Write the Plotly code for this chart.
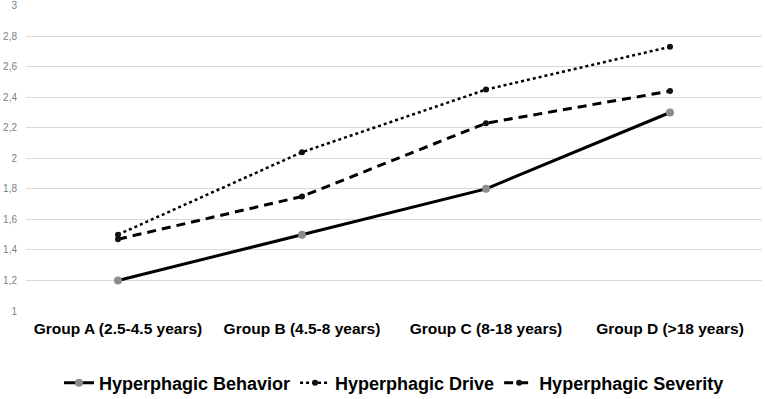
import plotly.graph_objects as go

categories = ["Group A (2.5-4.5 years)", "Group B (4.5-8 years)", "Group C (8-18 years)", "Group D (>18 years)"]
behavior = [1.2, 1.5, 1.8, 2.3]
drive = [1.5, 2.04, 2.45, 2.73]
severity = [1.47, 1.75, 2.23, 2.44]
tick_vals = [1, 1.2, 1.4, 1.6, 1.8, 2, 2.2, 2.4, 2.6, 2.8, 3]
tick_text = ["1", "1,2", "1,4", "1,6", "1,8", "2", "2,2", "2,4", "2,6", "2,8", "3"]

fig = go.Figure()
fig.add_trace(go.Scatter(x=categories, y=behavior, mode="lines+markers", name="Hyperphagic Behavior",
                         line=dict(color="black", width=3), marker=dict(color="#8c8c8c", size=8)))
fig.add_trace(go.Scatter(x=categories, y=drive, mode="lines+markers", name="Hyperphagic Drive",
                         line=dict(color="black", width=2.5, dash="dot"), marker=dict(color="#111111", size=6)))
fig.add_trace(go.Scatter(x=categories, y=severity, mode="lines+markers", name="Hyperphagic Severity",
                         line=dict(color="black", width=3, dash="9px,6px"), marker=dict(color="#111111", size=6)))

fig.update_layout(
    width=765, height=399,
    margin=dict(l=26, r=3, t=5, b=88),
    plot_bgcolor="white", paper_bgcolor="white",
    font=dict(family="Liberation Sans Narrow, Liberation Sans, sans-serif", color="black"),
    showlegend=True,
    legend=dict(orientation="h", x=0.5, xanchor="center", yref="container", y=0.04, yanchor="middle",
                font=dict(size=18, family="Liberation Sans Narrow, sans-serif", weight="bold"), traceorder="normal",
                itemwidth=30, tracegroupgap=0),
    xaxis=dict(type="category", range=[-0.5, 3.5], showgrid=False, showline=False, ticks="", automargin=False,
               tickfont=dict(size=15.5, family="Liberation Sans Narrow, sans-serif", weight="bold"), ticklabelstandoff=6),
    yaxis=dict(range=[1, 3.004], tickvals=tick_vals, ticktext=tick_text, showgrid=True, gridcolor="#d9d9d9",
               gridwidth=1, zeroline=False, showline=False, tickfont=dict(size=10, color="#808080"),
               ticklabelstandoff=8, automargin=False),
)
fig.write_html("out.html", config={"displayModeBar": False}, post_script="document.body.style.margin='0';")
